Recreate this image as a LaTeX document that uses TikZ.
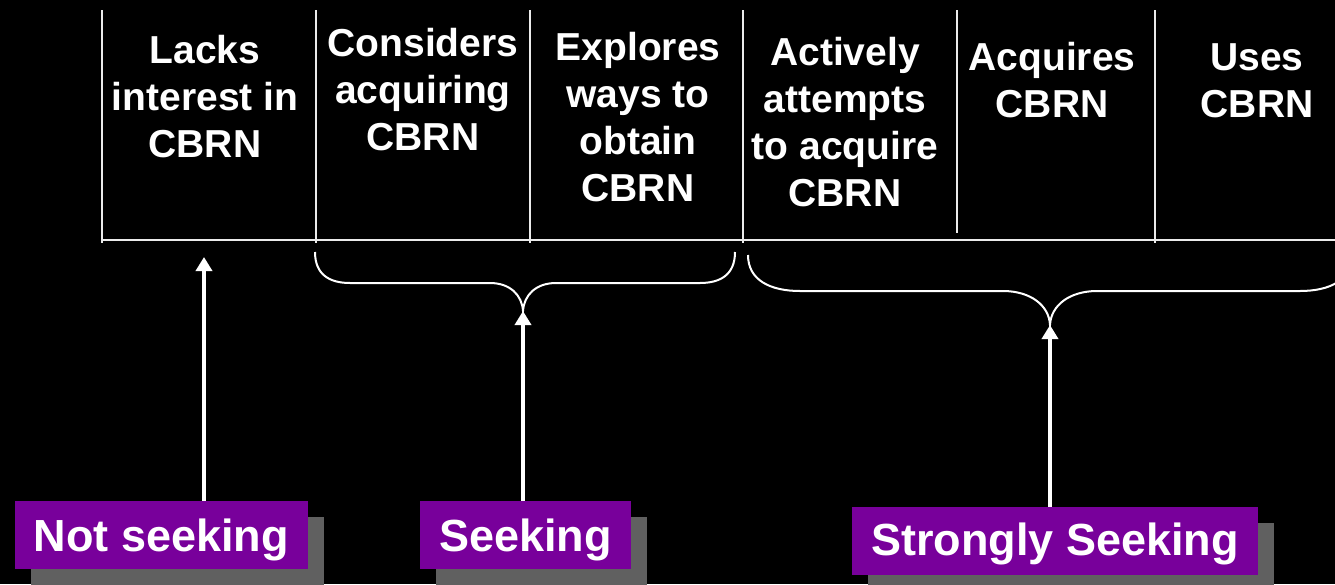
\documentclass[tikz,border=0pt]{standalone}
\usepackage{fontspec}
\setmainfont{Liberation Sans}
\usetikzlibrary{arrows.meta,shadows}
\definecolor{boxpurple}{RGB}{120,0,155}
\definecolor{shadowgray}{RGB}{96,96,96}
\tikzset{
  stagetext/.style={anchor=north, align=center, inner sep=0pt, text=white,
    font=\fontsize{39}{47}\selectfont\bfseries},
  groupbox/.style={fill=boxpurple, text=white, inner xsep=19pt, inner ysep=0pt,
    minimum height=68pt, text height=32pt, text depth=0pt,
    font=\fontsize{45}{54}\selectfont\bfseries,
    drop shadow={shadow xshift=16pt, shadow yshift=-16pt, fill=shadowgray, opacity=1}},
  uparrow/.style={white, line width=4pt, -{Triangle[width=16pt,length=14pt]}},
  bracket/.style={white, line width=2pt},
  rule/.style={white!92!black, line width=2pt}
}
\begin{document}
\begin{tikzpicture}[x=1pt, y=-1pt]
  \useasboundingbox (0,0) rectangle (1335,584);
  \fill[black] (0,0) rectangle (1335,584);
  \clip (0,0) rectangle (1335,584);
  % stage columns
  \foreach \x in {102,316,530,743,1155}
    \draw[rule] (\x,10) -- (\x,243);
  \draw[rule] (957,10) -- (957,233);
  \draw[rule] (102,240) -- (1335,240);
  \node[stagetext] (lacks)     at (205,35)  {Lacks\\interest in\\CBRN};
  \node[stagetext] (considers) at (423,28)  {Considers\\acquiring\\CBRN};
  \node[stagetext] (explores)  at (638,32)  {Explores\\ways to\\obtain\\CBRN};
  \node[stagetext] (attempts)  at (845,37)  {Actively\\attempts\\to acquire\\CBRN};
  \node[stagetext] (acquires)  at (1052,42) {Acquires\\CBRN};
  \node[stagetext] (uses)      at (1257,43) {Uses\\CBRN};
  % braces
  \coordinate (tipnot) at (204,257);
  \coordinate (tipseek) at (523,311);
  \coordinate (tipstrong) at (1050,325);
  \draw[bracket] (315,252) .. controls (315,275) and (330,283) .. (350,283)
    -- (490,283) .. controls (510,283) and (522,295) .. (tipseek)
    .. controls (524,295) and (536,283) .. (556,283)
    -- (700,283) .. controls (720,283) and (735,275) .. (735,252);
  \draw[bracket] (748,255) .. controls (748,280) and (770,291) .. (800,291)
    -- (1003,291) .. controls (1030,291) and (1049,305) .. (tipstrong)
    .. controls (1051,305) and (1070,291) .. (1097,291)
    -- (1300,291) .. controls (1330,291) and (1352,280) .. (1352,255);
  % group labels
  \node[groupbox] (notseeking) at (161.5,535) {Not seeking};
  \node[groupbox] (seeking)    at (525.5,535) {Seeking};
  \node[groupbox, text height=29pt] (strongly) at (1055,541) {Strongly Seeking};
  \draw[uparrow] (notseeking.north -| tipnot) -- (tipnot);
  \draw[uparrow] (seeking.north -| tipseek) -- (tipseek);
  \draw[uparrow] (strongly.north -| tipstrong) -- (tipstrong);
\end{tikzpicture}
\end{document}
